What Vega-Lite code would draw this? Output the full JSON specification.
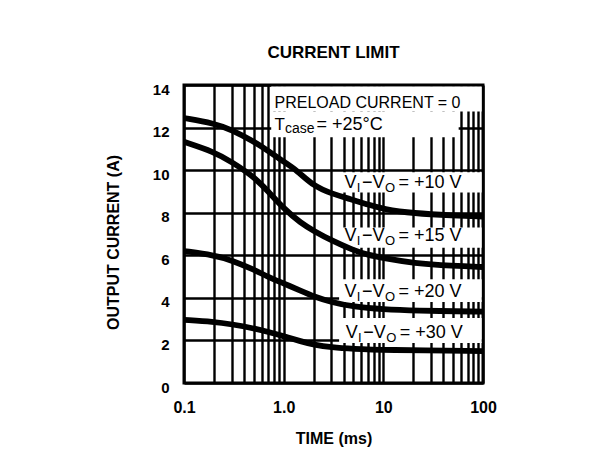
{
  "$schema": "https://vega.github.io/schema/vega-lite/v6.json",
  "autosize": "none",
  "width": 299,
  "height": 298,
  "padding": {"left": 184, "top": 85, "right": 109, "bottom": 87},
  "background": "white",
  "title": {"text": "CURRENT LIMIT", "fontSize": 17, "fontWeight": "bold", "font": "Liberation Sans", "offset": 7, "baseline": "alphabetic", "anchor": "middle", "color": "black"},
  "config": {
    "view": {"stroke": "black", "strokeWidth": 3},
    "font": "Liberation Sans",
    "axis": {"grid": true, "gridColor": "black", "gridWidth": 2.4, "gridOpacity": 1, "ticks": false, "domain": false,
      "labelFont": "Liberation Sans", "labelFontWeight": "bold", "labelColor": "black",
      "titleFont": "Liberation Sans", "titleFontSize": 16, "titleFontWeight": "bold", "titleColor": "black"},
    "axisX": {"labelFontSize": 16, "labelPadding": 16, "labelOverlap": false, "labelFlush": false, "titleY": 60, "titleBaseline": "alphabetic"},
    "axisY": {"labelFontSize": 15, "labelPadding": 15, "labelOffset": 4, "titleX": -66, "titleY": 157, "titleBaseline": "alphabetic", "titleAlign": "center", "titleAngle": -90}
  },
  "datasets": {
    "curves": [
      {"s": "10", "t": 0.1, "v": 12.45}, {"s": "10", "t": 0.2, "v": 12.2}, {"s": "10", "t": 0.3, "v": 11.9}, {"s": "10", "t": 0.5, "v": 11.35}, {"s": "10", "t": 0.7, "v": 10.9}, {"s": "10", "t": 1, "v": 10.4}, {"s": "10", "t": 1.35, "v": 10.0}, {"s": "10", "t": 2, "v": 9.25}, {"s": "10", "t": 3, "v": 8.9}, {"s": "10", "t": 5, "v": 8.6}, {"s": "10", "t": 7, "v": 8.38}, {"s": "10", "t": 10, "v": 8.17}, {"s": "10", "t": 20, "v": 7.97}, {"s": "10", "t": 50, "v": 7.87}, {"s": "10", "t": 100, "v": 7.82},
      {"s": "15", "t": 0.1, "v": 11.33}, {"s": "15", "t": 0.2, "v": 10.86}, {"s": "15", "t": 0.3, "v": 10.39}, {"s": "15", "t": 0.5, "v": 9.7}, {"s": "15", "t": 0.7, "v": 9.0}, {"s": "15", "t": 1, "v": 8.2}, {"s": "15", "t": 1.5, "v": 7.5}, {"s": "15", "t": 2, "v": 7.15}, {"s": "15", "t": 3, "v": 6.7}, {"s": "15", "t": 5, "v": 6.24}, {"s": "15", "t": 7, "v": 6.02}, {"s": "15", "t": 10, "v": 5.87}, {"s": "15", "t": 20, "v": 5.63}, {"s": "15", "t": 50, "v": 5.5}, {"s": "15", "t": 100, "v": 5.45},
      {"s": "20", "t": 0.1, "v": 6.2}, {"s": "20", "t": 0.2, "v": 6.0}, {"s": "20", "t": 0.3, "v": 5.77}, {"s": "20", "t": 0.5, "v": 5.33}, {"s": "20", "t": 0.7, "v": 4.98}, {"s": "20", "t": 1, "v": 4.68}, {"s": "20", "t": 1.5, "v": 4.32}, {"s": "20", "t": 2, "v": 4.07}, {"s": "20", "t": 3, "v": 3.8}, {"s": "20", "t": 5, "v": 3.58}, {"s": "20", "t": 10, "v": 3.46}, {"s": "20", "t": 20, "v": 3.4}, {"s": "20", "t": 100, "v": 3.35},
      {"s": "30", "t": 0.1, "v": 2.97}, {"s": "30", "t": 0.2, "v": 2.88}, {"s": "30", "t": 0.3, "v": 2.76}, {"s": "30", "t": 0.5, "v": 2.57}, {"s": "30", "t": 0.7, "v": 2.4}, {"s": "30", "t": 1, "v": 2.2}, {"s": "30", "t": 1.5, "v": 1.95}, {"s": "30", "t": 2, "v": 1.8}, {"s": "30", "t": 3, "v": 1.67}, {"s": "30", "t": 5, "v": 1.6}, {"s": "30", "t": 10, "v": 1.55}, {"s": "30", "t": 100, "v": 1.5}
    ],
    "boxes": [
      {"t0": 0.75, "t1": 97, "v0": 12.75, "v1": 13.93},
      {"t0": 0.75, "t1": 57, "v0": 11.55, "v1": 12.75},
      {"t0": 3.6, "t1": 97, "v0": 8.95, "v1": 9.9},
      {"t0": 3.6, "t1": 97, "v0": 6.35, "v1": 7.3},
      {"t0": 3.6, "t1": 97, "v0": 3.8, "v1": 4.88},
      {"t0": 3.6, "t1": 97, "v0": 1.88, "v1": 3.05}
    ],
    "vlabels": [
      {"t": 4.07, "v": 9.15, "tail": "= +10 V"},
      {"t": 4.07, "v": 6.67, "tail": "= +15 V"},
      {"t": 4.07, "v": 4.04, "tail": "= +20 V"},
      {"t": 4.2, "v": 2.11, "tail": "= +30 V"}
    ],
    "notes": [
      {"t": 0.81, "v": 12.91, "line1": "PRELOAD CURRENT = 0"}
    ],
    "tcase": [
      {"t": 0.81, "v": 11.88}
    ]
  },
  "layer": [
    {
      "data": {"name": "boxes"},
      "mark": {"type": "rect", "fill": "white", "strokeWidth": 0},
      "encoding": {
        "x": {"field": "t0", "type": "quantitative", "title": "TIME (ms)", "scale": {"type": "log", "domain": [0.1, 100], "nice": false},
          "axis": {"values": [0.1, 0.2, 0.3, 0.4, 0.5, 0.6, 0.7, 0.8, 0.9, 1, 2, 3, 4, 5, 6, 7, 8, 9, 10, 20, 30, 40, 50, 60, 70, 80, 90, 100],
            "labelExpr": "datum.value == 0.1 ? '0.1' : datum.value == 1 ? '1.0' : datum.value == 10 ? '10' : datum.value == 100 ? '100' : ''"}},
        "x2": {"field": "t1"},
        "y": {"field": "v0", "type": "quantitative", "title": "OUTPUT CURRENT (A)", "scale": {"domain": [0, 14], "nice": false},
          "axis": {"values": [0, 2, 4, 6, 8, 10, 12, 14]}},
        "y2": {"field": "v1"}
      }
    },
    {
      "data": {"name": "curves"},
      "mark": {"type": "line", "color": "black", "strokeWidth": 5.8, "interpolate": "basis"},
      "encoding": {
        "x": {"field": "t", "type": "quantitative", "title": "TIME (ms)", "scale": {"type": "log", "domain": [0.1, 100], "nice": false}},
        "y": {"field": "v", "type": "quantitative", "title": "OUTPUT CURRENT (A)", "scale": {"domain": [0, 14], "nice": false}},
        "detail": {"field": "s"}
      }
    },
    {
      "data": {"name": "vlabels"},
      "mark": {"type": "text", "align": "left", "baseline": "alphabetic", "fontSize": 18, "color": "black", "font": "Liberation Sans"},
      "encoding": {
        "x": {"field": "t", "type": "quantitative", "title": "TIME (ms)", "scale": {"type": "log", "domain": [0.1, 100], "nice": false}},
        "y": {"field": "v", "type": "quantitative", "title": "OUTPUT CURRENT (A)", "scale": {"domain": [0, 14], "nice": false}},
        "text": {"value": "V"}
      }
    },
    {
      "data": {"name": "vlabels"},
      "mark": {"type": "text", "align": "left", "baseline": "alphabetic", "fontSize": 13, "dx": 12.3, "dy": 3.5, "color": "black", "font": "Liberation Sans"},
      "encoding": {
        "x": {"field": "t", "type": "quantitative", "title": "TIME (ms)", "scale": {"type": "log", "domain": [0.1, 100], "nice": false}},
        "y": {"field": "v", "type": "quantitative", "title": "OUTPUT CURRENT (A)", "scale": {"domain": [0, 14], "nice": false}},
        "text": {"value": "I"}
      }
    },
    {
      "data": {"name": "vlabels"},
      "mark": {"type": "text", "align": "left", "baseline": "alphabetic", "fontSize": 18, "dx": 17.5, "color": "black", "font": "Liberation Sans"},
      "encoding": {
        "x": {"field": "t", "type": "quantitative", "title": "TIME (ms)", "scale": {"type": "log", "domain": [0.1, 100], "nice": false}},
        "y": {"field": "v", "type": "quantitative", "title": "OUTPUT CURRENT (A)", "scale": {"domain": [0, 14], "nice": false}},
        "text": {"value": "−V"}
      }
    },
    {
      "data": {"name": "vlabels"},
      "mark": {"type": "text", "align": "left", "baseline": "alphabetic", "fontSize": 13, "dx": 40.5, "dy": 3.5, "color": "black", "font": "Liberation Sans"},
      "encoding": {
        "x": {"field": "t", "type": "quantitative", "title": "TIME (ms)", "scale": {"type": "log", "domain": [0.1, 100], "nice": false}},
        "y": {"field": "v", "type": "quantitative", "title": "OUTPUT CURRENT (A)", "scale": {"domain": [0, 14], "nice": false}},
        "text": {"value": "O"}
      }
    },
    {
      "data": {"name": "vlabels"},
      "mark": {"type": "text", "align": "left", "baseline": "alphabetic", "fontSize": 18, "dx": 54, "color": "black", "font": "Liberation Sans"},
      "encoding": {
        "x": {"field": "t", "type": "quantitative", "title": "TIME (ms)", "scale": {"type": "log", "domain": [0.1, 100], "nice": false}},
        "y": {"field": "v", "type": "quantitative", "title": "OUTPUT CURRENT (A)", "scale": {"domain": [0, 14], "nice": false}},
        "text": {"field": "tail"}
      }
    },
    {
      "data": {"name": "notes"},
      "mark": {"type": "text", "align": "left", "baseline": "alphabetic", "fontSize": 16, "color": "black", "font": "Liberation Sans"},
      "encoding": {
        "x": {"field": "t", "type": "quantitative", "title": "TIME (ms)", "scale": {"type": "log", "domain": [0.1, 100], "nice": false}},
        "y": {"field": "v", "type": "quantitative", "title": "OUTPUT CURRENT (A)", "scale": {"domain": [0, 14], "nice": false}},
        "text": {"field": "line1"}
      }
    },
    {
      "data": {"name": "tcase"},
      "mark": {"type": "text", "align": "left", "baseline": "alphabetic", "fontSize": 17, "color": "black", "font": "Liberation Sans"},
      "encoding": {
        "x": {"field": "t", "type": "quantitative", "title": "TIME (ms)", "scale": {"type": "log", "domain": [0.1, 100], "nice": false}},
        "y": {"field": "v", "type": "quantitative", "title": "OUTPUT CURRENT (A)", "scale": {"domain": [0, 14], "nice": false}},
        "text": {"value": "T"}
      }
    },
    {
      "data": {"name": "tcase"},
      "mark": {"type": "text", "align": "left", "baseline": "alphabetic", "fontSize": 14, "dx": 10.5, "dy": 3, "color": "black", "font": "Liberation Sans"},
      "encoding": {
        "x": {"field": "t", "type": "quantitative", "title": "TIME (ms)", "scale": {"type": "log", "domain": [0.1, 100], "nice": false}},
        "y": {"field": "v", "type": "quantitative", "title": "OUTPUT CURRENT (A)", "scale": {"domain": [0, 14], "nice": false}},
        "text": {"value": "case"}
      }
    },
    {
      "data": {"name": "tcase"},
      "mark": {"type": "text", "align": "left", "baseline": "alphabetic", "fontSize": 18, "dx": 42, "color": "black", "font": "Liberation Sans"},
      "encoding": {
        "x": {"field": "t", "type": "quantitative", "title": "TIME (ms)", "scale": {"type": "log", "domain": [0.1, 100], "nice": false}},
        "y": {"field": "v", "type": "quantitative", "title": "OUTPUT CURRENT (A)", "scale": {"domain": [0, 14], "nice": false}},
        "text": {"value": "= +25°C"}
      }
    }
  ]
}
